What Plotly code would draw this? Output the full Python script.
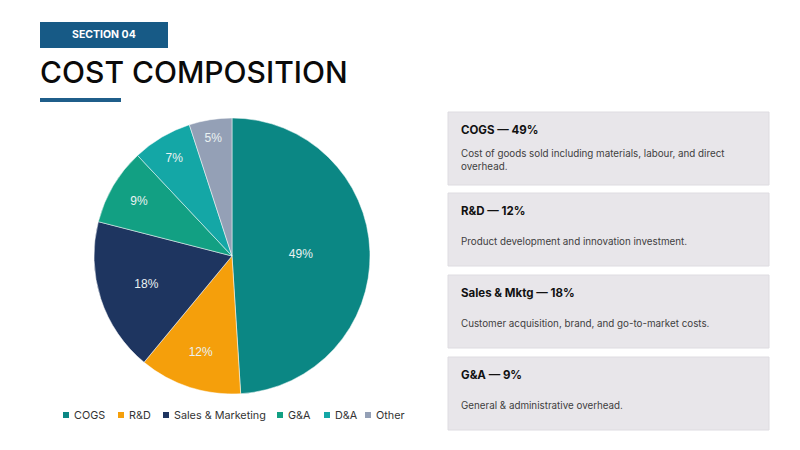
import plotly.graph_objects as go

# slice data, clockwise from 12 o'clock
labels = ["COGS", "R&D", "Sales & Marketing", "G&A", "D&A", "Other"]
values = [49, 12, 18, 9, 7, 5]
colors = ["#0B8784", "#F59F0B", "#1E3560", "#12A083", "#14A7A6", "#94A0B6"]

# side cards
card_titles = ["COGS — 49%", "R&D — 12%", "Sales & Mktg — 18%", "G&A — 9%"]
card_texts = [
    "Cost of goods sold including materials, labour, and direct<br>overhead.",
    "Product development and innovation investment.",
    "Customer acquisition, brand, and go-to-market costs.",
    "General & administrative overhead.",
]

W, H = 800, 450


def px(x):
    return x / W


def py(y):
    return 1 - y / H


fig = go.Figure()

fig.add_trace(go.Pie(
    labels=labels,
    values=values,
    sort=False,
    direction="clockwise",
    rotation=0,
    marker=dict(colors=colors, line=dict(color="#FFFFFF", width=0.5)),
    texttemplate="%{value}%",
    textposition="inside",
    insidetextorientation="horizontal",
    textfont=dict(family="Liberation Sans, Arial", size=12, color="#EAF2F2"),
    domain=dict(x=[px(94), px(370)], y=[py(394), py(118)]),
    hoverinfo="label+percent",
    showlegend=False,
))

shapes = []
annotations = []

# header badge + title + underline
shapes.append(dict(type="rect", xref="paper", yref="paper",
                   x0=px(40), x1=px(168), y0=py(48), y1=py(22),
                   fillcolor="#175A86", line=dict(width=0), layer="below"))
annotations.append(dict(text="<b>SECTION 04</b>", xref="paper", yref="paper",
                        x=px(104), y=py(35), xanchor="center", yanchor="middle",
                        showarrow=False,
                        font=dict(family="Inter", size=10.5, color="#FFFFFF")))
annotations.append(dict(text="COST COMPOSITION", xref="paper", yref="paper",
                        x=px(38), y=py(72), xanchor="left", yanchor="middle",
                        showarrow=False,
                        font=dict(family="Inter", size=30, color="#0A0A0A",
                                  weight=500)))
shapes.append(dict(type="rect", xref="paper", yref="paper",
                   x0=px(40), x1=px(121), y0=py(102), y1=py(98),
                   fillcolor="#1F5E8A", line=dict(width=0)))

# cards
card_tops = [112, 193, 275, 357]
card_h = 73
for top, ttl, txt in zip(card_tops, card_titles, card_texts):
    shapes.append(dict(type="rect", xref="paper", yref="paper",
                       x0=px(448), x1=px(769), y0=py(top + card_h), y1=py(top),
                       fillcolor="#E8E6EA", line=dict(color="#DEDCE1", width=1),
                       layer="below"))
    annotations.append(dict(text="<b>" + ttl + "</b>", xref="paper", yref="paper",
                            x=px(459), y=py(top + 18), xanchor="left",
                            yanchor="middle", showarrow=False,
                            font=dict(family="Inter", size=11.5, color="#111111")))
    annotations.append(dict(text=txt, xref="paper", yref="paper",
                            x=px(459), y=py(top + 48), xanchor="left",
                            yanchor="middle", align="left", showarrow=False,
                            font=dict(family="Inter", size=9.8, color="#404040")))

# legend row under the pie (square swatch + label)
legend_x = [63, 118, 163, 277, 324, 365]
legend_y = 415
for lx, lab, col in zip(legend_x, labels, colors):
    shapes.append(dict(type="rect", xref="paper", yref="paper",
                       x0=px(lx), x1=px(lx + 6), y0=py(legend_y + 3),
                       y1=py(legend_y - 3), fillcolor=col, line=dict(width=0)))
    annotations.append(dict(text=lab, xref="paper", yref="paper",
                            x=px(lx + 9), y=py(legend_y), xanchor="left",
                            yanchor="middle", showarrow=False,
                            font=dict(family="Inter", size=10.8, color="#333333")))

fig.update_layout(
    width=W, height=H,
    margin=dict(l=0, r=0, t=0, b=0, autoexpand=False),
    paper_bgcolor="#FFFFFF",
    plot_bgcolor="#FFFFFF",
    shapes=shapes,
    annotations=annotations,
    showlegend=False,
)

# drop the default body margin so the 800x450 figure sits flush in the window
fig.write_html("out.html", config={"displayModeBar": False},
               post_script="document.body.style.margin='0';")
